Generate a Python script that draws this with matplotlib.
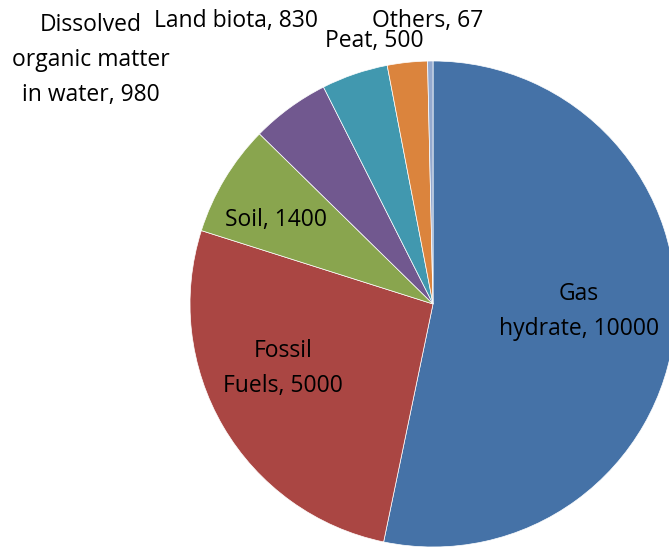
import matplotlib
matplotlib.use("Agg")
import matplotlib.pyplot as plt

# carbon reservoirs (Gt C)
labels = ["Gas\nhydrate, 10000", "Fossil\nFuels, 5000", "Soil, 1400",
          "Dissolved\norganic matter\nin water, 980", "Land biota, 830",
          "Peat, 500", "Others, 67"]
values = [10000, 5000, 1400, 980, 830, 500, 67]
colors = ["#4572A7", "#AA4643", "#89A54E", "#71588F", "#4198AF", "#DB843D", "#93A9CF"]

# label anchor in pixels: centre x, baseline of last line y (from top)
label_pos = [(579, 335), (283, 392), (276, 226), (91, 101), (236, 27), (374, 47), (428, 27)]

W, H = 669, 549
fig = plt.figure(figsize=(W / 100, H / 100), dpi=100)
ax = fig.add_axes([0, 0, 1, 1])

ax.pie(values, colors=colors, startangle=90, counterclock=False,
       center=(433, H - 304), radius=243, frame=True,
       wedgeprops=dict(edgecolor="white", linewidth=0.5))
ax.set_xlim(0, W)
ax.set_ylim(0, H)
ax.set_aspect("equal")
ax.axis("off")

for lab, (x, y) in zip(labels, label_pos):
    ax.text(x, H - y, lab, ha="center", va="baseline", fontsize=16.5,
            family="Open Sans", linespacing=1.62, color="black")

fig.savefig("out.png", dpi=100)
